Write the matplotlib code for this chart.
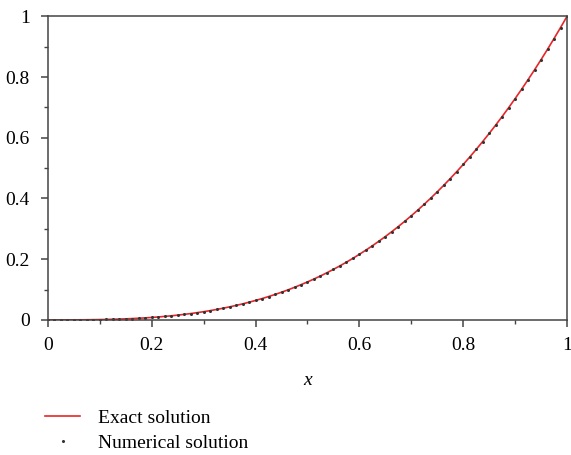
import matplotlib
matplotlib.use("Agg")
import matplotlib.pyplot as plt
from matplotlib.ticker import MultipleLocator, FuncFormatter

# grid points (h = 0.0125) and values
x = [0.0, 0.0125, 0.025, 0.0375, 0.05, 0.0625, 0.075, 0.0875, 0.1, 0.1125,
     0.125, 0.1375, 0.15, 0.1625, 0.175, 0.1875, 0.2, 0.2125, 0.225, 0.2375,
     0.25, 0.2625, 0.275, 0.2875, 0.3, 0.3125, 0.325, 0.3375, 0.35, 0.3625,
     0.375, 0.3875, 0.4, 0.4125, 0.425, 0.4375, 0.45, 0.4625, 0.475, 0.4875,
     0.5, 0.5125, 0.525, 0.5375, 0.55, 0.5625, 0.575, 0.5875, 0.6, 0.6125,
     0.625, 0.6375, 0.65, 0.6625, 0.675, 0.6875, 0.7, 0.7125, 0.725, 0.7375,
     0.75, 0.7625, 0.775, 0.7875, 0.8, 0.8125, 0.825, 0.8375, 0.85, 0.8625,
     0.875, 0.8875, 0.9, 0.9125, 0.925, 0.9375, 0.95, 0.9625, 0.975, 0.9875,
     1.0]
y = [0.0, 0.0, 0.0, 0.0001, 0.0001, 0.0002, 0.0004, 0.0007, 0.001, 0.0014,
     0.002, 0.0026, 0.0034, 0.0043, 0.0054, 0.0066, 0.008, 0.0096, 0.0114, 0.0134,
     0.0156, 0.0181, 0.0208, 0.0238, 0.027, 0.0305, 0.0343, 0.0384, 0.0429, 0.0476,
     0.0527, 0.0582, 0.064, 0.0702, 0.0768, 0.0837, 0.0911, 0.0989, 0.1072, 0.1159,
     0.125, 0.1346, 0.1447, 0.1553, 0.1664, 0.178, 0.1901, 0.2028, 0.216, 0.2298,
     0.2441, 0.2591, 0.2746, 0.2908, 0.3075, 0.325, 0.343, 0.3617, 0.3811, 0.4011,
     0.4219, 0.4433, 0.4655, 0.4884, 0.512, 0.5364, 0.5615, 0.5874, 0.6141, 0.6416,
     0.6699, 0.699, 0.729, 0.7598, 0.7915, 0.824, 0.8574, 0.8917, 0.9269, 0.963,
     1.0]

plt.rcParams["font.family"] = ["Liberation Serif", "DejaVu Serif"]
plt.rcParams["font.size"] = 14

fig = plt.figure(figsize=(5.71, 4.55), dpi=100)
ax = fig.add_axes([0.084, 0.297, 0.909, 0.667])

ax.plot(x, y, color="#e8262a", lw=1.2, label="Exact solution")
ax.plot(x, y, ls="none", marker="o", ms=1.2, color="#333333", label="Numerical solution")

ax.set_xlim(0, 1)
ax.set_ylim(0, 1)
ax.xaxis.set_major_locator(MultipleLocator(0.2))
ax.yaxis.set_major_locator(MultipleLocator(0.2))
ax.xaxis.set_minor_locator(MultipleLocator(0.1))
ax.yaxis.set_minor_locator(MultipleLocator(0.1))
fmt = FuncFormatter(lambda v, p: "%g" % round(v, 2))
ax.xaxis.set_major_formatter(fmt)
ax.yaxis.set_major_formatter(fmt)

for s in ax.spines.values():
    s.set_color("#444444")
    s.set_linewidth(1.1)
ax.tick_params(which="major", direction="out", length=5, width=1.1, color="#444444", pad=8)
ax.tick_params(which="minor", direction="out", length=3, width=1.0, color="#444444")
ax.tick_params(axis="x", which="major", pad=7)

ax.set_xlabel("x", style="italic", labelpad=13)

fig.legend(loc="upper left", bbox_to_anchor=(0.079, 0.101), frameon=False,
           handlelength=1.8, handletextpad=0.9, labelspacing=0.4,
           borderpad=0, borderaxespad=0)

fig.savefig("out.png", dpi=100)
